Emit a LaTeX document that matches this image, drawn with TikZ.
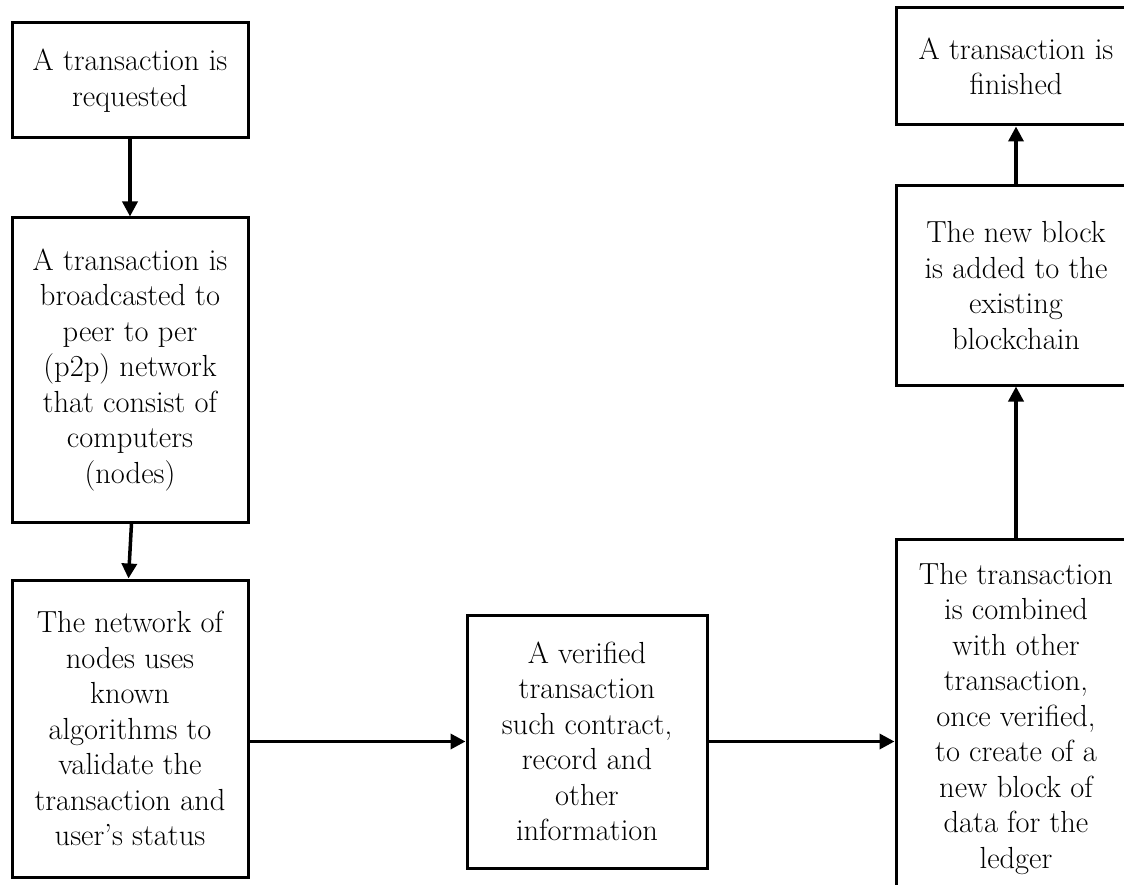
\documentclass[tikz,border=0pt]{standalone}
\usepackage{fontspec}
\usetikzlibrary{arrows.meta}
\begin{document}
\begin{tikzpicture}[x=1pt,y=1pt,
  box/.style={draw=black, line width=3pt, align=center, inner sep=0pt,
    font=\fontsize{30.5}{35.5}\selectfont, text=black},
  arr/.style={line width=3.5pt, -{Triangle[length=15pt,width=15pt]}}]
\useasboundingbox (0,0) rectangle (1124,-885);
\clip (0,0) rectangle (1124,-885);
\node[box, minimum width=236pt, minimum height=115pt] (B1) at (130,-80.5)
  {A transaction is\\requested};
\node[box, minimum width=236pt, minimum height=304pt] (B2) at (130,-370)
  {A transaction is\\broadcasted to\\peer to per\\(p2p) network\\that consist of\\computers\\(nodes)};
\node[box, minimum width=236pt, minimum height=297pt] (B3) at (130,-728.5)
  {The network of\\nodes uses\\known\\algorithms to\\validate the\\transaction and\\user’s status};
\node[box, minimum width=240pt, minimum height=253pt] (B4) at (587,-741.5)
  {A verified\\transaction\\such contract,\\record and\\other\\information};
\node[box, minimum width=240pt, minimum height=360pt] (B5) at (1016,-719)
  {The transaction\\is combined\\with other\\transaction,\\once verified,\\to create of a\\new block of\\data for the\\ledger};
\node[box, minimum width=240pt, minimum height=199pt] (B6) at (1016,-285.5)
  {The new block\\is added to the\\existing\\blockchain};
\node[box, minimum width=240pt, minimum height=117pt] (B7) at (1016,-66.5)
  {A transaction is\\finished};
\draw[arr] (B1) -- (B2);
\draw[arr] ([xshift=1.5pt]B2.south) -- ([xshift=-1.5pt]B3.north);
\draw[arr] (B3.east |- B4.west) -- (B4.west);
\draw[arr] (B4.east) -- (B4.east -| B5.west);
\draw[arr] (B5.north) -- (B6.south);
\draw[arr] (B6.north) -- (B7.south);
\end{tikzpicture}
\end{document}
